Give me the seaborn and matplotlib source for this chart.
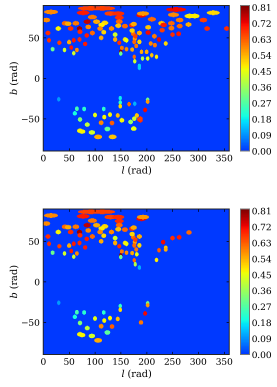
import numpy as np
import seaborn as sns
import matplotlib.pyplot as plt
from matplotlib.colors import LinearSegmentedColormap

# blobs seen on both panels
both_l = [92, 15, 77, 130, 145, 190, 193, 95, 103, 147, 147, 6, 42, 48, 63, 85, 119, 113, 29, 53, 70, 87, 110, 132,
          145, 158, 172, 175, 9, 71, 84, 95, 117, 139, 174, 186, 11, 31, 50, 59, 70, 81, 112, 139, 158, 161, 177, 186,
          147, 18, 41, 54, 65, 59, 152, 161, 172, 150, 150, 176, 30, 149, 149, 202, 202, 197, 65, 61, 79, 117, 100, 118,
          129, 144, 71, 85, 112, 133, 124, 71, 75, 94, 106, 178, 172, 176, 180, 114]
both_b = [86.5, 82, 81, 80, 80, 78, 80, 75.6, 70, 75, 70, 72, 68, 67.5, 68, 70, 68.5, 66, 61.5, 61.5, 61.5, 63.5, 61.5, 61.5,
          65, 64.5, 65.7, 67, 56, 57.5, 53, 56, 57, 54, 55, 56, 47, 44, 44.6, 47, 48, 42.5, 50, 48, 48, 47, 49, 45,
          44, 36, 35, 38, 35, 31, 37.5, 36, 35.5, 32.6, 30.5, 26.5, -26, -30, -34.6, -26.5, -29, -39.2, -37.7, -43.4, -38, -38, -45.5, -48,
          -45, -46, -51, -57.4, -55, -55.3, -62.7, -65, -66, -67, -72.5, 52, 59, 45, 40, 86.5]
both_v = [0.66, 0.58, 0.7, 0.66, 0.68, 0.72, 0.57, 0.6, 0.55, 0.68, 0.62, 0.58, 0.62, 0.55, 0.6, 0.76, 0.5, 0.48, 0.47, 0.68, 0.79, 0.58, 0.58, 0.58,
          0.52, 0.62, 0.68, 0.55, 0.68, 0.68, 0.7, 0.62, 0.5, 0.42, 0.62, 0.55, 0.68, 0.66, 0.55, 0.7, 0.68, 0.7, 0.55, 0.55, 0.48, 0.46, 0.55, 0.5,
          0.68, 0.3, 0.42, 0.7, 0.58, 0.42, 0.6, 0.58, 0.55, 0.8, 0.3, 0.62, 0.1, 0.22, 0.5, 0.3, 0.57, 0.72, 0.25, 0.2, 0.22, 0.22, 0.45, 0.47,
          0.47, 0.53, 0.33, 0.4, 0.58, 0.63, 0.28, 0.47, 0.47, 0.42, 0.55, 0.66, 0.5, 0.62, 0.6, 0.66]

# only upper panel
top_l = [257, 329, 252, 283, 293, 210, 264, 310, 203, 229, 233, 248, 248, 264, 281, 317, 355, 203, 215, 230, 250, 262, 224, 237, 208, 216,
         190, 200, 210, 219, 192, 202, 177, 186, 186, 149, 166, 177, 186, 181, 176, 188, 188, 152, 169, 175, 134]
top_b = [85, 81, 78.5, 77, 77, 73, 72, 72, 63, 68, 66, 68, 62, 64.5, 66.5, 61.5, 61.5, 56.5, 52, 59.5, 54, 55, 48, 43, 43, 41,
         32.6, 32.6, 28.5, 26.5, 24.4, 24.4, 21, 15.3, 13, -24.6, -32, -31.5, -51, -46, -50, -52, -50, -52, -54, -62.4, -72.5]
top_v = [0.72, 0.5, 0.58, 0.48, 0.48, 0.62, 0.6, 0.66, 0.52, 0.52, 0.7, 0.62, 0.6, 0.62, 0.55, 0.68, 0.68, 0.72, 0.6, 0.66, 0.68, 0.7, 0.72, 0.5, 0.58, 0.6,
         0.55, 0.55, 0.52, 0.48, 0.38, 0.45, 0.42, 0.15, 0.15, 0.18, 0.62, 0.12, 0.66, 0.52, 0.42, 0.68, 0.66, 0.47, 0.35, 0.45, 0.52]

# only lower panel
bot_l = [232, 250, 263, 282, 224, 237, 237, 219, 176, 178, 186, 181, 189]
bot_b = [49, 54, 55, 61, 39, 42, 40, 27, 26.6, 21.7, 17.6, 34, -50.4]
bot_v = [0.72, 0.68, 0.7, 0.62, 0.63, 0.52, 0.55, 0.48, 0.62, 0.38, 0.12, 0.45, 0.6]

ticks_x = [0, 50, 100, 150, 200, 250, 300, 350]
ticks_y = [-50, 0, 50]
ticks_c = [0.00, 0.09, 0.18, 0.27, 0.36, 0.45, 0.54, 0.63, 0.72, 0.81]


def sky_map(ls, bs, vs):
    # half degree grid, blobs get wider towards the pole
    lon = np.arange(0, 360, 0.5) + 0.25
    lat = np.arange(-90, 90, 0.5) + 0.25
    L, B = np.meshgrid(lon, lat)
    m = np.zeros_like(L)
    for l0, b0, v in zip(ls, bs, vs):
        hw = 3.1 / np.cos(np.radians(b0)) ** 0.75
        mask = ((L - l0) / hw) ** 2 + ((B - b0) / 2.8) ** 2 < 1
        m[mask] = v
    return m


jet_cut = LinearSegmentedColormap.from_list("jet_cut", plt.cm.jet(np.linspace(0.18, 1, 256)))

plt.rcParams["font.family"] = "DejaVu Serif"
plt.rcParams["mathtext.fontset"] = "dejavuserif"

SS = 4  # drawn large, averaged down at the end
fig = plt.figure(figsize=(2.77, 3.87), dpi=100 * SS)
H = 387.0
W = 277.0
panels = [(both_l + top_l, both_b + top_b, both_v + top_v, 5.5, 151),
          (both_l + bot_l, both_b + bot_b, both_v + bot_v, 209, 354.5)]

for ls, bs, vs, y_top, y_bot in panels:
    ax = fig.add_axes([43.3 / W, 1 - y_bot / H, 186 / W, (y_bot - y_top) / H])
    cax = fig.add_axes([240.5 / W, 1 - y_bot / H, 9 / W, (y_bot - y_top) / H])
    sns.heatmap(sky_map(ls, bs, vs), ax=ax, cbar_ax=cax, cmap=jet_cut, vmin=0, vmax=0.82,
                xticklabels=False, yticklabels=False, rasterized=True,
                cbar_kws={"ticks": ticks_c, "format": "%.2f"})
    ax.set_xlim(0, 720)
    ax.set_ylim(0, 360)
    ax.set_xticks([v * 2 for v in ticks_x])
    ax.set_xticklabels([str(v) for v in ticks_x], rotation=0, fontsize=6.5)
    ax.set_yticks([(v + 90) * 2 for v in ticks_y])
    ax.set_yticklabels(["\u2212%d" % -v if v < 0 else str(v) for v in ticks_y], rotation=0, fontsize=6.5)
    ax.tick_params(direction="in", length=2, width=0.5, top=True, right=True, pad=2.5)
    ax.set_xlabel(r"$l$ (rad)", fontsize=7, labelpad=2)
    ax.set_ylabel(r"$b$ (rad)", fontsize=7, labelpad=1)
    for s in ax.spines.values():
        s.set_visible(True)
        s.set_linewidth(0.7)
        s.set_color("#222222")
    cax.tick_params(labelsize=6.5, length=0, pad=1.5)
    for s in cax.spines.values():
        s.set_visible(True)
        s.set_linewidth(0.7)
        s.set_color("#777777")

fig.canvas.draw()
rgba = np.asarray(fig.canvas.buffer_rgba())[:, :, :3].astype(float) / 255
h, w = rgba.shape[0] // SS, rgba.shape[1] // SS
small = rgba[:h * SS, :w * SS].reshape(h, SS, w, SS, 3).mean(axis=(1, 3))
plt.imsave("out.png", small)
